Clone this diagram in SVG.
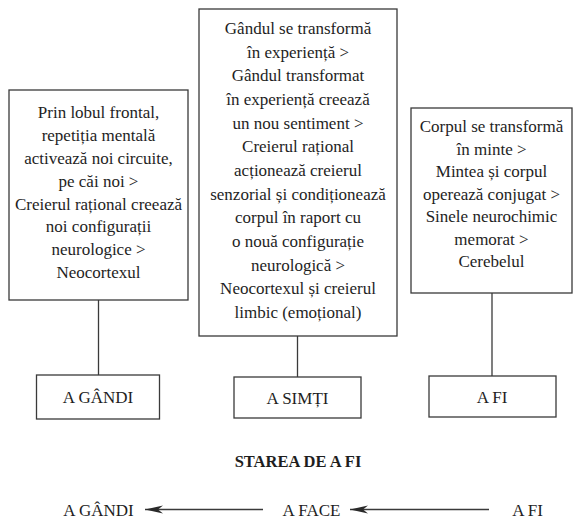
<svg xmlns="http://www.w3.org/2000/svg" width="575" height="519" viewBox="0 0 575 519">
  <style>
    .box { fill: #ffffff; stroke: #3a3a3a; stroke-width: 1.3; }
    .line { stroke: #3a3a3a; stroke-width: 1.3; fill: none; }
    .txt { font-family: 'Liberation Serif', Tinos, 'Times New Roman', Times, 'DejaVu Serif', serif; font-size: 17px; fill: #1e1e1e; text-anchor: middle; }
    .title { font-family: 'Liberation Serif', Tinos, 'Times New Roman', Times, 'DejaVu Serif', serif; font-size: 16.5px; font-weight: bold; fill: #1e1e1e; text-anchor: middle; }
  </style>
  <defs>
    <!-- swept, concave arrowhead; tip sits on the line end -->
    <marker id="head" markerUnits="userSpaceOnUse" markerWidth="19" markerHeight="10" refX="18" refY="5" orient="auto">
      <path d="M18,5 L0,0.9 L5,5 L0,9.1 Z" fill="#2a2a2a"/>
    </marker>
  </defs>
  <rect width="575" height="519" fill="#ffffff"/>

  <!-- connectors -->
  <g id="connectors">
    <line class="line" x1="98.5" y1="300" x2="98.5" y2="375"/>
    <line class="line" x1="297.5" y1="336" x2="297.5" y2="377"/>
    <line class="line" x1="492" y1="293" x2="492" y2="376"/>
    <line class="line" x1="263" y1="509.5" x2="145" y2="509.5" marker-end="url(#head)"/>
    <line class="line" x1="489" y1="509.5" x2="350" y2="509.5" marker-end="url(#head)"/>
  </g>

  <!-- upper box: thinking -->
  <g id="box-gandi">
    <rect class="box" x="9" y="90" width="179" height="210"/>
    <text class="txt" x="98.5" y="118">Prin lobul frontal,</text>
    <text class="txt" x="98.5" y="141">repetiția mentală</text>
    <text class="txt" x="98.5" y="164">activează noi circuite,</text>
    <text class="txt" x="98.5" y="187">pe căi noi &gt;</text>
    <text class="txt" x="98.5" y="210">Creierul rațional creează</text>
    <text class="txt" x="98.5" y="232">noi configurații</text>
    <text class="txt" x="98.5" y="255">neurologice &gt;</text>
    <text class="txt" x="98.5" y="278">Neocortexul</text>
  </g>

  <!-- upper box: feeling -->
  <g id="box-simti">
    <rect class="box" x="199" y="9" width="198" height="327"/>
    <text class="txt" x="298" y="34">Gândul se transformă</text>
    <text class="txt" x="298" y="58">în experiență &gt;</text>
    <text class="txt" x="298" y="81">Gândul transformat</text>
    <text class="txt" x="298" y="105">în experiență creează</text>
    <text class="txt" x="298" y="129">un nou sentiment &gt;</text>
    <text class="txt" x="298" y="152">Creierul rațional</text>
    <text class="txt" x="298" y="176">acționează creierul</text>
    <text class="txt" x="298" y="200">senzorial și condiționează</text>
    <text class="txt" x="298" y="223">corpul în raport cu</text>
    <text class="txt" x="298" y="247">o nouă configurație</text>
    <text class="txt" x="298" y="271">neurologică &gt;</text>
    <text class="txt" x="298" y="294">Neocortexul și creierul</text>
    <text class="txt" x="298" y="318">limbic (emoțional)</text>
  </g>

  <!-- upper box: being -->
  <g id="box-fi">
    <rect class="box" x="411" y="108" width="161" height="185"/>
    <text class="txt" x="491.5" y="132">Corpul se transformă</text>
    <text class="txt" x="491.5" y="154.5">în minte &gt;</text>
    <text class="txt" x="491.5" y="177">Mintea și corpul</text>
    <text class="txt" x="491.5" y="199.5">operează conjugat &gt;</text>
    <text class="txt" x="491.5" y="222">Sinele neurochimic</text>
    <text class="txt" x="491.5" y="244.5">memorat &gt;</text>
    <text class="txt" x="491.5" y="267">Cerebelul</text>
  </g>

  <!-- lower labels -->
  <g id="label-gandi">
    <rect class="box" x="36.5" y="375" width="123" height="44"/>
    <text class="txt" x="98" y="403">A GÂNDI</text>
  </g>
  <g id="label-simti">
    <rect class="box" x="234" y="377" width="127" height="41"/>
    <text class="txt" x="297.5" y="404">A SIMȚI</text>
  </g>
  <g id="label-fi">
    <rect class="box" x="429" y="376" width="127" height="41"/>
    <text class="txt" x="492" y="403">A FI</text>
  </g>

  <!-- state sequence -->
  <g id="state-title">
    <text class="title" x="298" y="467">STAREA DE A FI</text>
  </g>
  <g id="seq-gandi"><text class="txt" x="98.5" y="516">A GÂNDI</text></g>
  <g id="seq-face"><text class="txt" x="311.5" y="516">A FACE</text></g>
  <g id="seq-fi"><text class="txt" x="527.5" y="516">A FI</text></g>
</svg>
